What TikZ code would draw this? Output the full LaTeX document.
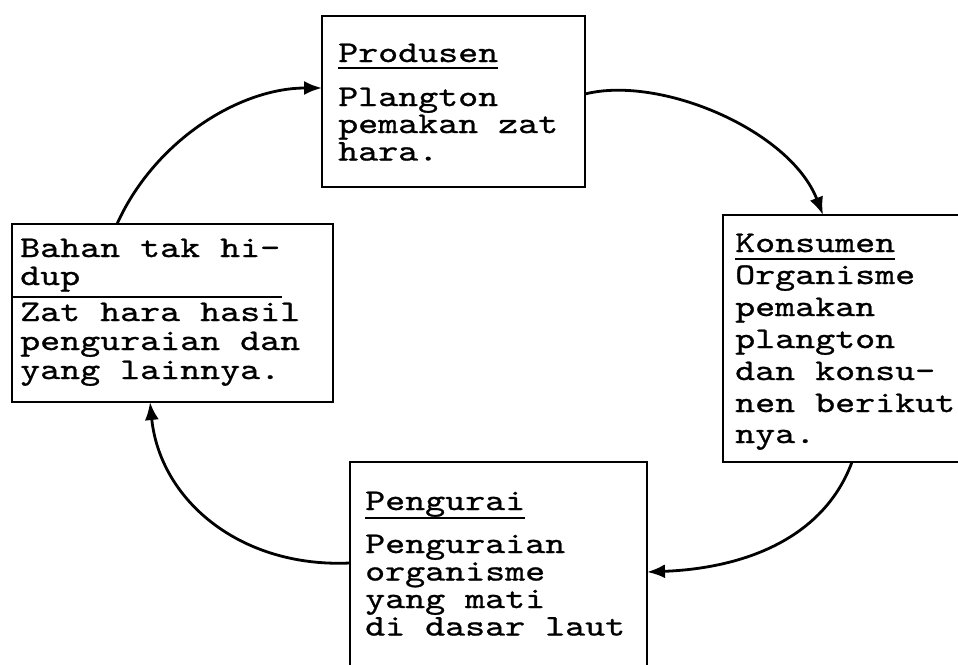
\documentclass[tikz,border=0pt]{standalone}
\usepackage{fontspec}
\newfontfamily\tw[FakeStretch=1.27,FakeBold=0.9]{lmmono10-regular.otf}
\usetikzlibrary{arrows.meta}
\tikzset{
  box/.style={draw, line width=2.8pt, rectangle, inner sep=0pt, outer sep=0pt},
  tl/.style={font={\fontsize{30pt}{32pt}\tw}, inner sep=0pt, anchor=base west, text height=18pt, text depth=5pt},
  uline/.style={line width=2.4pt},
  conn/.style={line width=2.8pt, -{Latex[length=18pt,width=14pt]}}
}
\begin{document}
\begin{tikzpicture}[x=1pt,y=-1pt]
\useasboundingbox (0,0) rectangle (958,664);
\clip (0,0) rectangle (958,664);
% boxes
\node[box, minimum width=263pt, minimum height=171pt] (produsen) at (453.5,101.5) {};
\node[box, minimum width=321pt, minimum height=178pt] (bahan) at (172.5,313) {};
\node[box, minimum width=267pt, minimum height=247pt] (konsumen) at (856.5,338.5) {};
\node[box, minimum width=297pt, minimum height=228pt] (pengurai) at (498.5,576) {};
% Produsen text
\node[tl] (p1) at (338,62) {Produsen};
\node[tl] (p2) at (338,106) {Plangton};
\node[tl] (p3) at (338,133) {pemakan zat};
\node[tl] (p4) at (338,160.5) {hara.};
\draw[uline] ([yshift=-6pt]p1.base west) -- ++(160,0);
% Bahan text
\node[tl] (b1) at (20,257) {Bahan tak hi-};
\node[tl] (b2) at (20,285) {dup};
\node[tl] (b3) at (20,321) {Zat hara hasil};
\node[tl] (b4) at (20,350) {penguraian dan};
\node[tl] (b5) at (20,379) {yang lainnya.};
\coordinate (bu) at (12,297);
\draw[uline] (bu) -- ++(270,0);
% Konsumen text
\node[tl] (k1) at (735,252) {Konsumen};
\node[tl] (k2) at (735,284) {Organisme};
\node[tl] (k3) at (735,316) {pemakan};
\node[tl] (k4) at (735,348) {plangton};
\node[tl] (k5) at (735,380) {dan konsu-};
\node[tl] (k6) at (735,412) {nen berikut};
\node[tl] (k7) at (735,443) {nya.};
\draw[uline] ([yshift=-7pt]k1.base west) -- ++(160,0);
% Pengurai text
\node[tl] (g1) at (365,510) {Pengurai};
\node[tl] (g2) at (365,553) {Penguraian};
\node[tl] (g3) at (365,580.5) {organisme};
\node[tl] (g4) at (365,608) {yang mati};
\node[tl] (g5) at (365,635.5) {di dasar laut};
\draw[uline] ([yshift=-8pt]g1.base west) -- ++(160,0);
% connectors
\draw[conn] ([xshift=105pt]bahan.north west) .. controls (155,140) and (240,88) .. ([yshift=-72pt]produsen.north west);
\draw[conn] ([yshift=-78pt]produsen.north east) .. controls (660,75) and (790,130) .. ([xshift=100pt]konsumen.north west);
\draw[conn] ([xshift=129pt]konsumen.south west) .. controls (825,535) and (750,568) .. ([yshift=-110pt]pengurai.north east);
\draw[conn] ([yshift=-101pt]pengurai.north west) .. controls (240,568) and (160,500) .. ([xshift=138pt]bahan.south west);
\end{tikzpicture}
\end{document}
